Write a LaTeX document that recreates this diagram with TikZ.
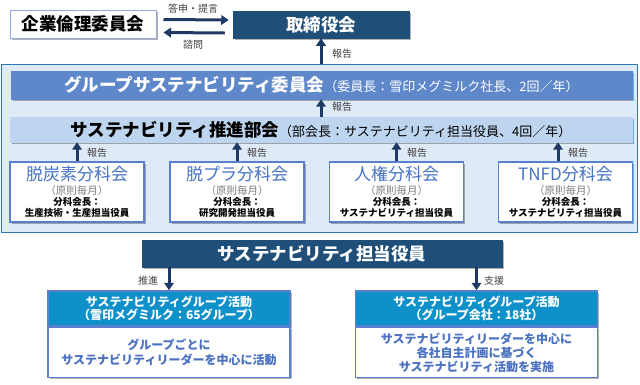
\documentclass[tikz,border=0pt]{standalone}
\usepackage{fontspec}
\setmainfont{Noto Sans CJK JP}
\usetikzlibrary{shadows,arrows.meta}
\definecolor{navy}{HTML}{1F4E79}
\definecolor{arr}{HTML}{1F3864}
\definecolor{midblue}{HTML}{5F88CB}
\definecolor{lightbar}{HTML}{BDD5EE}
\definecolor{contfill}{HTML}{DEEAF6}
\definecolor{contline}{HTML}{2E75B6}
\definecolor{boxline}{HTML}{5B7FCF}
\definecolor{titleblue}{HTML}{4472C4}
\definecolor{headerc}{HTML}{0E90C8}
\definecolor{bodyblue}{HTML}{4A70C2}
\definecolor{lblc}{HTML}{404040}
\definecolor{grayc}{HTML}{7F7F7F}
\definecolor{ethline}{HTML}{8FAADC}
\tikzset{
  shad/.style={drop shadow={shadow xshift=1.5pt,shadow yshift=-1.5pt,opacity=0.3,fill=black}},
  bigarrow/.style={draw=arr,line width=3pt,-{Triangle[width=9.5pt,length=7.5pt]}},
  lbl/.style={font=\fontsize{10}{12}\selectfont,text=lblc,inner sep=0pt},
  navybox/.style={fill=navy,draw=navy,line width=0.5pt,text=white,font=\bfseries\fontsize{17.5}{20}\selectfont,inner sep=0pt,shad},
  subbox/.style={fill=white,draw=boxline,line width=1.6pt,minimum width=134pt,minimum height=60pt,inner sep=0pt,align=center,shad,font=\fontsize{9.5}{10.5}\selectfont},
  hdr/.style={fill=headerc,draw=boxline,line width=1.5pt,minimum width=242pt,minimum height=35pt,inner sep=0pt,align=center,text=white,font=\bfseries\fontsize{12}{13.5}\selectfont,shad},
  bodybox/.style={fill=white,draw=boxline,line width=1.5pt,minimum width=242pt,minimum height=50pt,inner sep=0pt,align=center,text=bodyblue,font=\bfseries\fontsize{12}{14.5}\selectfont,shad},
}
\newcommand{\subtitle}[1]{{\fontsize{17}{18}\selectfont\color{titleblue}#1}}
\newcommand{\subfreq}{{\fontsize{10.5}{12}\selectfont\color{grayc}（原則毎月）}}
\begin{document}
\begin{tikzpicture}[x=1pt,y=-1pt]
\useasboundingbox (0,0) rectangle (640,384);
% top row
\node[fill=white,draw=ethline,line width=1pt,minimum width=146pt,minimum height=28pt,inner sep=0pt,shad,font=\bfseries\fontsize{17.5}{20}\selectfont] (ethics) at (83,24) {企業倫理委員会};
\node[navybox,minimum width=176pt,minimum height=27pt] (board) at (321,24.5) {取締役会};
\draw[bigarrow] ([shift={(7pt,4.5pt)}]ethics.east) -- ([shift={(-4pt,4.5pt)}]board.west);
\draw[bigarrow] ([shift={(-8pt,-8.5pt)}]board.west) -- ([shift={(7pt,-8.5pt)}]ethics.east);
\node[lbl] (l1) at (193,9) {答申・提言};
\node[lbl] (l2) at (193,45) {諮問};
% container
\node[fill=contfill,draw=contline,line width=0.8pt,minimum width=636pt,minimum height=168pt,inner sep=0pt] (cont) at (319,148) {};
\draw[bigarrow] (board.south |- cont.north) -- (board.south);
\node[lbl] (l3) at (342,54) {報告};
\node[fill=midblue,draw=midblue,minimum width=621pt,minimum height=28pt,inner sep=0pt,shad,text=white] (comm) at (321.5,85)
  {{\bfseries\fontsize{17.5}{20}\selectfont グループサステナビリティ委員会}{\fontsize{13}{15}\selectfont（委員長：雪印メグミルク社長、2回／年）}};
\node[fill=lightbar,draw=lightbar,minimum width=622pt,minimum height=25pt,inner sep=0pt,shad,text=black] (promo) at (321,129.5)
  {{\bfseries\fontsize{17.5}{20}\selectfont サステナビリティ推進部会}{\fontsize{13}{15}\selectfont（部会長：サステナビリティ担当役員、4回／年）}};
\draw[bigarrow] (board.south |- promo.north) -- (board.south |- comm.south);
\node[lbl] (l4) at (342,107) {報告};
% subcommittees
\node[subbox] (s1) at (77,192) {\subtitle{脱炭素分科会}\\[3pt]\subfreq\\[1pt]\textbf{分科会長：}\\\textbf{生産技術・生産担当役員}};
\node[subbox] (s2) at (237,192) {\subtitle{脱プラ分科会}\\[3pt]\subfreq\\[1pt]\textbf{分科会長：}\\\textbf{研究開発担当役員}};
\node[subbox] (s3) at (396.5,192) {\subtitle{人権分科会}\\[3pt]\subfreq\\[1pt]\textbf{分科会長：}\\\textbf{サステナビリティ担当役員}};
\node[subbox] (s4) at (565.5,192) {\subtitle{TNFD分科会}\\[3pt]\subfreq\\[1pt]\textbf{分科会長：}\\\textbf{サステナビリティ担当役員}};
\draw[bigarrow] (s1.north) -- (s1.north |- promo.south);
\draw[bigarrow] (s2.north) -- (s2.north |- promo.south);
\draw[bigarrow] (s3.north) -- (s3.north |- promo.south);
\coordinate (s4a) at ([xshift=-7.5pt]s4.north);
\draw[bigarrow] (s4a) -- (s4a |- promo.south);
\node[lbl] (l5) at (97,153) {報告};
\node[lbl] (l6) at (257,153) {報告};
\node[lbl] (l7) at (417,153) {報告};
\node[lbl] (l8) at (578,153) {報告};
% officer
\node[navybox,minimum width=360pt,minimum height=27pt] (off) at (322,253.5) {サステナビリティ担当役員};
% bottom boxes
\node[hdr] (lh) at (169,308.5) {サステナビリティグループ活動\\（雪印メグミルク：65グループ）};
\node[bodybox,anchor=north] (lb) at (lh.south) {グループごとに\\サステナビリティリーダーを中心に活動};
\node[hdr] (rh) at (476.5,308.5) {サステナビリティグループ活動\\（グループ会社：18社）};
\node[bodybox,anchor=north,font=\bfseries\fontsize{12}{14}\selectfont] (rb) at (rh.south) {サステナビリティリーダーを中心に\\各社自主計画に基づく\\サステナビリティ活動を実施};
\draw[bigarrow] (lh.north |- off.south) -- (lh.north);
\draw[bigarrow] (rh.north |- off.south) -- (rh.north);
\node[lbl] (l9) at (148,281) {推進};
\node[lbl] (l10) at (494,281) {支援};
\end{tikzpicture}
\end{document}
